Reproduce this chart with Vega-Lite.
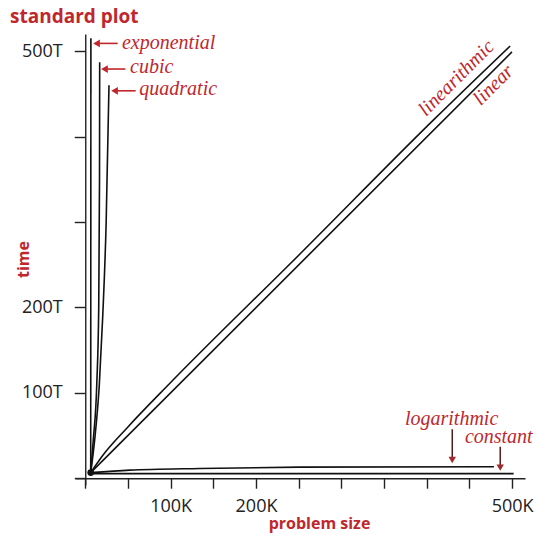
{
  "$schema": "https://vega.github.io/schema/vega-lite/v6.json",
  "autosize": {"type": "none"},
  "padding": {"left": 75, "top": 34, "right": 10, "bottom": 50},
  "width": 450,
  "height": 451,
  "background": "white",
  "title": {"text": "standard plot", "anchor": "start", "frame": "group", "dx": -65, "offset": -9, "baseline": "alphabetic", "font": "Open Sans", "fontSize": 19, "fontWeight": "bold", "color": "#c0272d"},
  "config": {"view": {"stroke": null}},
  "datasets": {
    "curves": [
      {"curve": "exponential", "n": 6.4, "t": 6.5},
      {"curve": "exponential", "n": 6.6, "t": 515},
      {"curve": "cubic", "n": 6.4, "t": 6.5},
      {"curve": "cubic", "n": 9.4, "t": 44.5},
      {"curve": "cubic", "n": 13.5, "t": 110},
      {"curve": "cubic", "n": 15.8, "t": 200},
      {"curve": "cubic", "n": 16.7, "t": 349},
      {"curve": "cubic", "n": 16.9, "t": 487},
      {"curve": "quadratic", "n": 6.4, "t": 6.5},
      {"curve": "quadratic", "n": 11, "t": 44.5},
      {"curve": "quadratic", "n": 16.5, "t": 110},
      {"curve": "quadratic", "n": 20.5, "t": 190},
      {"curve": "quadratic", "n": 24.5, "t": 300},
      {"curve": "quadratic", "n": 27.8, "t": 460},
      {"curve": "linearithmic", "n": 6.4, "t": 6.5},
      {"curve": "linearithmic", "n": 20, "t": 26},
      {"curve": "linearithmic", "n": 50, "t": 60},
      {"curve": "linearithmic", "n": 100, "t": 112},
      {"curve": "linearithmic", "n": 250, "t": 261},
      {"curve": "linearithmic", "n": 407.6, "t": 419.2},
      {"curve": "linearithmic", "n": 497.6, "t": 506},
      {"curve": "linear", "n": 6.4, "t": 6.5},
      {"curve": "linear", "n": 499.7, "t": 499},
      {"curve": "logarithmic", "n": 6.4, "t": 6.5},
      {"curve": "logarithmic", "n": 52, "t": 9.4},
      {"curve": "logarithmic", "n": 134, "t": 11.4},
      {"curve": "logarithmic", "n": 251, "t": 12.9},
      {"curve": "logarithmic", "n": 478.6, "t": 13.3},
      {"curve": "constant", "n": 6.4, "t": 5.3},
      {"curve": "constant", "n": 501.7, "t": 5.3}
    ],
    "labels": [
      {"label": "exponential", "n": 43, "t": 503},
      {"label": "cubic", "n": 52.5, "t": 474},
      {"label": "quadratic", "n": 63.3, "t": 448.5},
      {"label": "logarithmic", "n": 374.4, "t": 62},
      {"label": "constant", "n": 444.6, "t": 40.6}
    ],
    "diag": [
      {"label": "linearithmic", "n": 434.7, "t": 468.4},
      {"label": "linear", "n": 478.1, "t": 460.2}
    ],
    "leftArrows": [
      {"label": "exponential", "n": 38, "n2": 13, "t": 509, "hn": 13.2},
      {"label": "cubic", "n": 47, "n2": 22, "t": 479, "hn": 22.5},
      {"label": "quadratic", "n": 59, "n2": 34, "t": 453.5, "hn": 34.3}
    ],
    "downArrows": [
      {"label": "logarithmic", "n": 429.8, "t": 57.4, "t2": 22, "ht": 21.3},
      {"label": "constant", "n": 486, "t": 36.7, "t2": 13, "ht": 12.3}
    ],
    "origin": [{"n": 6.4, "t": 6.5}]
  },
  "layer": [
    {
      "data": {"name": "curves"},
      "mark": {"type": "line", "color": "#111", "strokeWidth": 1.6, "interpolate": "monotone"},
      "encoding": {
        "x": {"field": "n", "type": "quantitative", "scale": {"domain": [-12, 515], "nice": false, "zero": false},
          "axis": {"values": [0, 50, 100, 150, 200, 250, 300, 350, 400, 450, 500],
            "labelExpr": "datum.value == 100 ? '100K' : datum.value == 200 ? '200K' : datum.value == 500 ? '500K' : ''",
            "offset": -6.8, "grid": false, "tickSize": 10, "labelPadding": 9, "labelFlush": false, "labelOverlap": false,
            "domainColor": "#222", "tickColor": "#222", "domainWidth": 1.4, "tickWidth": 1.4,
            "labelFont": "Open Sans", "labelFontSize": 18, "labelColor": "#222",
            "title": "problem size", "titleFont": "Open Sans", "titleFontSize": 16, "titleFontWeight": "bold", "titleColor": "#c0272d",
            "titleX": 244, "titleY": 50, "titleBaseline": "alphabetic", "titleAlign": "center"}},
        "y": {"field": "t", "type": "quantitative", "scale": {"domain": [-8, 520], "nice": false, "zero": false},
          "axis": {"values": [0, 100, 200, 300, 400, 500],
            "labelExpr": "datum.value == 100 ? '100T' : datum.value == 200 ? '200T' : datum.value == 500 ? '500T' : ''",
            "offset": -10.25, "grid": false, "tickSize": 11, "labelPadding": 12, "labelFlush": false, "labelOverlap": false,
            "domainColor": "#222", "tickColor": "#222", "domainWidth": 1.4, "tickWidth": 1.4,
            "labelFont": "Open Sans", "labelFontSize": 18, "labelColor": "#222",
            "title": "time", "titleFont": "Open Sans", "titleFontSize": 16, "titleFontWeight": "bold", "titleColor": "#c0272d",
            "titleAngle": 270, "titleX": -56.5, "titleY": 225, "titleBaseline": "alphabetic", "titleAlign": "center"}},
        "detail": {"field": "curve", "type": "nominal"}
      }
    },
    {
      "data": {"name": "origin"},
      "mark": {"type": "point", "filled": true, "color": "#111", "size": 45, "opacity": 1},
      "encoding": {"x": {"field": "n", "type": "quantitative"}, "y": {"field": "t", "type": "quantitative"}}
    },
    {
      "data": {"name": "labels"},
      "mark": {"type": "text", "font": "Liberation Serif", "fontStyle": "italic", "fontSize": 20, "color": "#c0272d", "align": "left", "baseline": "alphabetic"},
      "encoding": {"x": {"field": "n", "type": "quantitative"}, "y": {"field": "t", "type": "quantitative"}, "text": {"field": "label"}}
    },
    {
      "data": {"name": "diag"},
      "mark": {"type": "text", "font": "Liberation Serif", "fontStyle": "italic", "fontSize": 20, "color": "#c0272d", "align": "center", "baseline": "middle", "angle": 315},
      "encoding": {"x": {"field": "n", "type": "quantitative"}, "y": {"field": "t", "type": "quantitative"}, "text": {"field": "label"}}
    },
    {
      "data": {"name": "leftArrows"},
      "mark": {"type": "rule", "color": "#c0272d", "strokeWidth": 1.6},
      "encoding": {"x": {"field": "n", "type": "quantitative"}, "x2": {"field": "n2"}, "y": {"field": "t", "type": "quantitative"}}
    },
    {
      "data": {"name": "leftArrows"},
      "mark": {"type": "point", "shape": "triangle-left", "filled": true, "color": "#c0272d", "size": 60, "opacity": 1},
      "encoding": {"x": {"field": "hn", "type": "quantitative"}, "y": {"field": "t", "type": "quantitative"}}
    },
    {
      "data": {"name": "downArrows"},
      "mark": {"type": "rule", "color": "#5a1a1a", "strokeWidth": 1.5},
      "encoding": {"x": {"field": "n", "type": "quantitative"}, "y": {"field": "t", "type": "quantitative"}, "y2": {"field": "t2"}}
    },
    {
      "data": {"name": "downArrows"},
      "mark": {"type": "point", "shape": "triangle-down", "filled": true, "color": "#a0282a", "size": 55, "opacity": 1},
      "encoding": {"x": {"field": "n", "type": "quantitative"}, "y": {"field": "ht", "type": "quantitative"}}
    }
  ]
}
